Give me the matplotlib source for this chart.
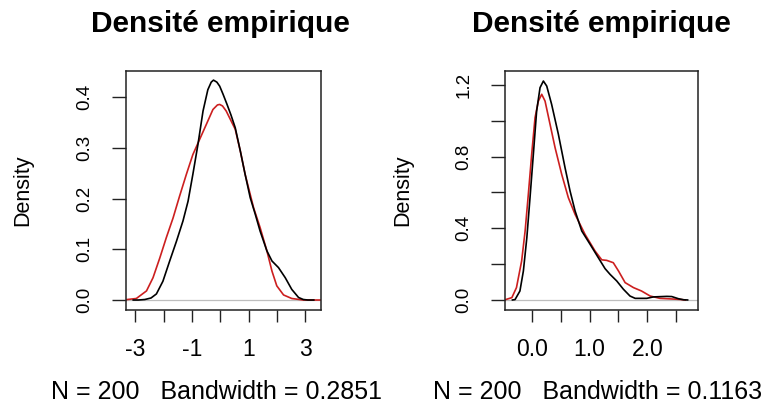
import matplotlib
matplotlib.use("Agg")
import matplotlib.pyplot as plt

plt.rcParams['font.family'] = ['Liberation Sans', 'DejaVu Sans']

left_x_black = [-3.08, -2.90, -2.67, -2.45, -2.26, -2.03, -1.79, -1.55, -1.32, -1.14, -0.97,
                -0.79, -0.61, -0.44, -0.32, -0.24, -0.12, -0.02, 0.10, 0.24, 0.38, 0.53, 0.71,
                0.88, 1.06, 1.24, 1.41, 1.65, 1.83, 2.06, 2.30, 2.53, 2.77, 2.94, 3.10, 3.31]
left_y_black = [0.0, 0.0, 0.001, 0.004, 0.012, 0.037, 0.077, 0.116, 0.156, 0.195, 0.248,
                0.307, 0.373, 0.415, 0.430, 0.434, 0.430, 0.422, 0.406, 0.386, 0.365, 0.340, 0.294,
                0.248, 0.202, 0.169, 0.136, 0.097, 0.077, 0.064, 0.044, 0.021, 0.005, 0.001, 0.0, 0.0]

left_x_red = [-3.45, -2.97, -2.61, -2.38, -2.14, -1.91, -1.67, -1.44, -1.20, -0.97, -0.73,
              -0.49, -0.26, -0.10, -0.02, 0.08, 0.21, 0.53, 0.71, 0.88, 1.18, 1.41, 1.65,
              1.83, 2.00, 2.24, 2.53, 2.94, 3.60]
left_y_red = [0.0, 0.003, 0.018, 0.044, 0.083, 0.123, 0.162, 0.205, 0.248, 0.287, 0.317,
              0.347, 0.376, 0.385, 0.386, 0.383, 0.373, 0.337, 0.294, 0.248, 0.182, 0.143, 0.097,
              0.057, 0.028, 0.010, 0.003, 0.0, 0.0]

right_x_black = [-0.34, -0.295, -0.21, -0.15, -0.09, -0.035, 0.023, 0.08, 0.139, 0.197, 0.255,
                 0.34, 0.457, 0.573, 0.66, 0.747, 0.863, 1.007, 1.15, 1.267, 1.354, 1.47,
                 1.585, 1.70, 1.79, 1.99, 2.105, 2.34, 2.425, 2.54, 2.63, 2.70]
right_y_black = [0.0, 0.002, 0.050, 0.162, 0.348, 0.571, 0.813, 1.055, 1.185, 1.222, 1.194,
                 1.092, 0.925, 0.738, 0.608, 0.497, 0.385, 0.311, 0.236, 0.175, 0.143, 0.106,
                 0.060, 0.022, 0.009, 0.009, 0.017, 0.020, 0.019, 0.007, 0.001, 0.0]

right_x_red = [-0.48, -0.35, -0.27, -0.18, -0.12, -0.064, -0.006, 0.052, 0.11, 0.168, 0.226,
               0.313, 0.40, 0.515, 0.63, 0.747, 0.92, 1.094, 1.21, 1.296, 1.41, 1.50, 1.615,
               1.76, 1.90, 2.05, 2.22, 2.40, 2.57, 2.66]
right_y_red = [0.0, 0.013, 0.069, 0.218, 0.385, 0.590, 0.813, 1.017, 1.110, 1.148, 1.110,
               0.980, 0.850, 0.701, 0.571, 0.478, 0.366, 0.273, 0.224, 0.221, 0.208, 0.162, 0.097,
               0.069, 0.050, 0.022, 0.009, 0.006, 0.003, 0.0]

left_xticks = [-3, -2, -1, 0, 1, 2, 3]
left_xlabels = ['-3', '', '-1', '', '1', '', '3']
left_yticks = [0.0, 0.1, 0.2, 0.3, 0.4]
left_ylabels = ['0.0', '0.1', '0.2', '0.3', '0.4']

right_xticks = [0.0, 0.5, 1.0, 1.5, 2.0, 2.5]
right_xlabels = ['0.0', '', '1.0', '', '2.0', '']
right_yticks = [0.0, 0.2, 0.4, 0.6, 0.8, 1.0, 1.2]
right_ylabels = ['0.0', '', '0.4', '', '0.8', '', '1.2']

titles = ['Densité empirique', 'Densité empirique']
subs = ['N = 200   Bandwidth = 0.2851', 'N = 200   Bandwidth = 0.1163']

W, H = 764, 403
fig = plt.figure(figsize=(W / 100, H / 100), dpi=100)


def px_axes(x0, y0, x1, y1):
    return fig.add_axes([x0 / W, 1 - y1 / H, (x1 - x0) / W, (y1 - y0) / H])


red = '#cc1f1f'
panels = [
    dict(box=(126, 71, 321, 310), xlim=(-3.336, 3.565), ylim=(-0.0197, 0.452),
         bx=left_x_black, by=left_y_black, rx=left_x_red, ry=left_y_red,
         xt=left_xticks, xl=left_xlabels, yt=left_yticks, yl=left_ylabels,
         title_x=220, sub_x=216, ylab_x=23),
    dict(box=(505, 71, 698, 310), xlim=(-0.469, 2.88), ylim=(-0.056, 1.278),
         bx=right_x_black, by=right_y_black, rx=right_x_red, ry=right_y_red,
         xt=right_xticks, xl=right_xlabels, yt=right_yticks, yl=right_ylabels,
         title_x=601, sub_x=598, ylab_x=403),
]

for i, p in enumerate(panels):
    ax = px_axes(*p['box'])
    ax.axhline(0, color='#bebebe', lw=0.9, zorder=1)
    ax.plot(p['bx'], p['by'], color='black', lw=1.2, zorder=3)
    ax.plot(p['rx'], p['ry'], color=red, lw=1.2, zorder=2)
    ax.set_xlim(*p['xlim'])
    ax.set_ylim(*p['ylim'])

    ax.set_xticks(p['xt'])
    ax.set_xticklabels(p['xl'], fontsize=16.5)
    ax.set_yticks(p['yt'])
    ax.set_yticklabels(p['yl'], fontsize=13.5, rotation=90, va='center')
    ax.tick_params(axis='x', direction='out', length=8.6, width=1, pad=11.5, color='#222222')
    ax.tick_params(axis='y', direction='out', length=10, width=1, pad=13.5, color='#222222')
    for s in ax.spines.values():
        s.set_linewidth(1.1)
        s.set_color('#222222')

    cy = 1 - ((p['box'][1] + p['box'][3]) / 2) / H
    fig.text(p['ylab_x'] / W, cy, 'Density', rotation=90, ha='center', va='center', fontsize=15.5)
    fig.text(p['title_x'] / W, 1 - 32 / H, titles[i], ha='center', va='baseline',
             fontsize=21.5, fontweight='bold')
    fig.text(p['sub_x'] / W, 1 - 399 / H, subs[i], ha='center', va='baseline', fontsize=18)

fig.savefig('out.png', dpi=100)
